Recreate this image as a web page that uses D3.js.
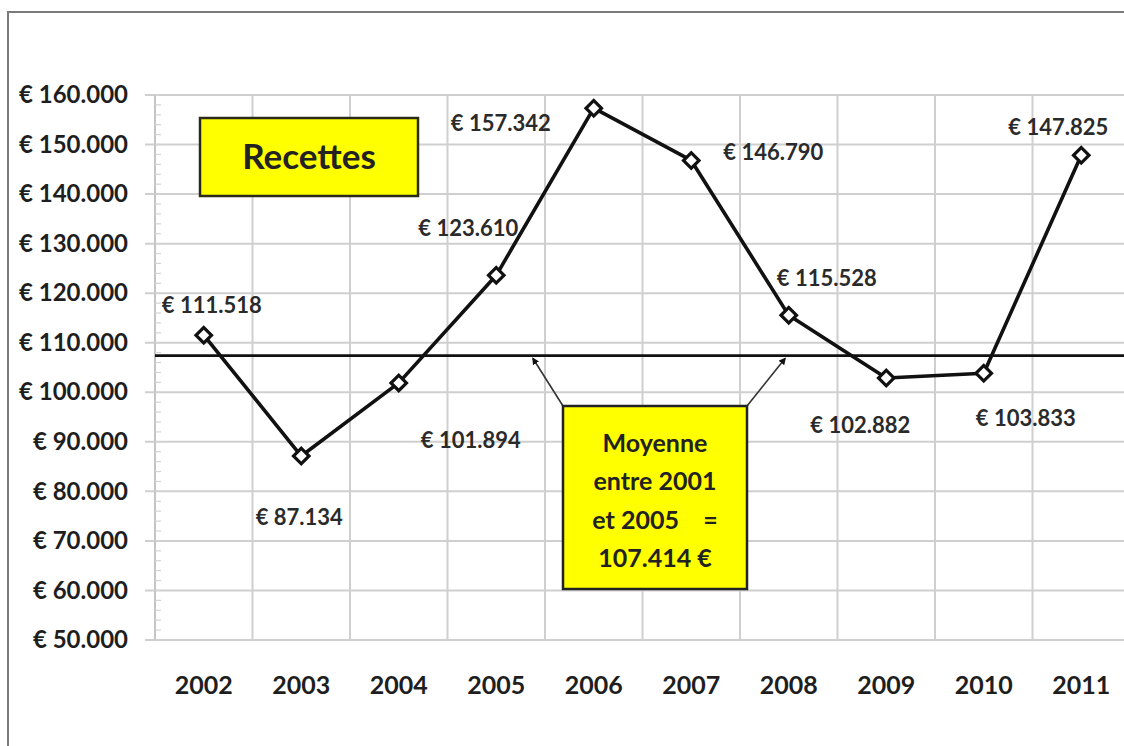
<!DOCTYPE html>
<html>
<head>
<meta charset="utf-8">
<script src="https://cdn.jsdelivr.net/npm/d3@7"></script>
<style>
	body { margin: 0; background: #fff; }
	svg { display: block; font-family: Lato, "Open Sans", sans-serif; }
</style>
</head>
<body>
<svg id="chart" width="1124" height="746"></svg>
<script>

//DATA

var years = ["2002", "2003", "2004", "2005", "2006", "2007", "2008", "2009", "2010", "2011"];
var recettes = [111518, 87134, 101894, 123610, 157342, 146790, 115528, 102882, 103833, 147825];
var moyenne = 107414;
var yTicks = [50000, 60000, 70000, 80000, 90000, 100000, 110000, 120000, 130000, 140000, 150000, 160000];
var titre = "Recettes";
var noteLines = ["Moyenne", "entre 2001", "et 2005    =", "107.414 €"];

//label placement around each point (layout only)
var labelOffsets = [[8, -30], [-2, 61], [72, 57], [-28, -47], [-93, 15], [82, -8], [38, -37], [-26, 47], [42, 45], [-23, -28]];

//LAYOUT

var margin = { top: 95, left: 155, bottom: 106 };
var svg = d3.select("#chart");
var outerWidth = +svg.attr("width");
var outerHeight = +svg.attr("height");
var plotRight = 1130;
var plotBottom = outerHeight - margin.bottom;

// euro format with dots as thousand separators
var fmt = (v) => "€ " + d3.format(",")(v).replace(/,/g, ".");

//scales
var xScale = d3.scaleBand()
	.domain(years)
	.range([margin.left, plotRight])
	.padding(0);

var yScale = d3.scaleLinear()
	.domain([50000, 160000])
	.range([plotBottom, margin.top]);

//frame around the chart
svg.append("rect")
	.attr("x", 8)
	.attr("y", 12)
	.attr("width", outerWidth + 20)
	.attr("height", outerHeight + 20)
	.attr("fill", "none")
	.attr("stroke", "#7a7a7a")
	.attr("stroke-width", 2);

//horizontal gridlines + outward ticks
svg.append("g")
	.selectAll("line")
	.data(yTicks)
	.enter()
	.append("line")
	.attr("x1", margin.left - 10)
	.attr("x2", outerWidth + 10)
	.attr("y1", d => yScale(d))
	.attr("y2", d => yScale(d))
	.attr("stroke", "#cfcfcf")
	.attr("stroke-width", 2);

//vertical gridlines at category boundaries
var bounds = years.map(d => xScale(d)).concat([plotRight]);
svg.append("g")
	.selectAll("line")
	.data(bounds)
	.enter()
	.append("line")
	.attr("x1", d => d)
	.attr("x2", d => d)
	.attr("y1", margin.top)
	.attr("y2", plotBottom)
	.attr("stroke", d => d == margin.left ? "#c4c4c4" : "#cfcfcf")
	.attr("stroke-width", 2);

//minor ticks on the value axis
var minorTicks = d3.range(50000, 160001, 2000);
svg.append("g")
	.selectAll("line")
	.data(minorTicks)
	.enter()
	.append("line")
	.attr("x1", margin.left)
	.attr("x2", margin.left + 6)
	.attr("y1", d => yScale(d))
	.attr("y2", d => yScale(d))
	.attr("stroke", "#d4d4d4")
	.attr("stroke-width", 1.2);

//y axis labels
var yAxis = d3.axisLeft(yScale)
	.tickValues(yTicks)
	.tickSize(0)
	.tickPadding(0)
	.tickFormat(fmt);

svg.append("g")
	.attr("class", "yAxis")
	.attr("transform", "translate(" + (margin.left - 27) + ",0)")
	.call(yAxis)
	.call(g => g.select(".domain").remove())
	.selectAll("text")
	.attr("font-family", "Lato, sans-serif")
	.attr("font-weight", 700)
	.attr("font-size", 24)
	.attr("fill", "#1e1e1e");

//x axis labels
var xAxis = d3.axisBottom(xScale)
	.tickSize(0)
	.tickPadding(0);

svg.append("g")
	.attr("class", "xAxis")
	.attr("transform", "translate(0," + (plotBottom + 45) + ")")
	.call(xAxis)
	.call(g => g.select(".domain").remove())
	.selectAll("text")
	.attr("dy", "0.35em")
	.attr("font-family", "Lato, sans-serif")
	.attr("font-weight", 700)
	.attr("font-size", 25)
	.attr("fill", "#1e1e1e");

//average line
svg.append("line")
	.attr("x1", margin.left)
	.attr("x2", outerWidth + 10)
	.attr("y1", yScale(moyenne))
	.attr("y2", yScale(moyenne))
	.attr("stroke", "#111")
	.attr("stroke-width", 2.8);

//the series line
var cx = (d, i) => xScale(years[i]) + xScale.bandwidth() / 2;
var line = d3.line()
	.x(cx)
	.y(d => yScale(d));

svg.append("path")
	.datum(recettes)
	.attr("d", line)
	.attr("fill", "none")
	.attr("stroke", "#111")
	.attr("stroke-width", 3.6)
	.attr("stroke-linejoin", "round");

//diamond markers
svg.append("g")
	.selectAll("path")
	.data(recettes)
	.enter()
	.append("path")
	.attr("d", d3.symbol(d3.symbolSquare, 120))
	.attr("transform", (d, i) => "translate(" + cx(d, i) + "," + yScale(d) + ") rotate(45)")
	.attr("fill", "#fff")
	.attr("stroke", "#111")
	.attr("stroke-width", 3.2);

//data labels
svg.append("g")
	.selectAll("text")
	.data(recettes)
	.enter()
	.append("text")
	.attr("x", (d, i) => cx(d, i) + labelOffsets[i][0])
	.attr("y", (d, i) => yScale(d) + labelOffsets[i][1])
	.attr("dy", "0.35em")
	.attr("text-anchor", "middle")
	.attr("font-size", 22)
	.attr("font-weight", 700)
	.attr("fill", "#2a2a2a")
	.text(d => fmt(d));

//title box
var titleBox = { x: 200, y: 118, w: 218, h: 78 };
svg.append("rect")
	.attr("x", titleBox.x)
	.attr("y", titleBox.y)
	.attr("width", titleBox.w)
	.attr("height", titleBox.h)
	.attr("fill", "#ffff00")
	.attr("stroke", "#2b2b1a")
	.attr("stroke-width", 2.5);

svg.append("text")
	.attr("x", titleBox.x + titleBox.w / 2)
	.attr("y", titleBox.y + titleBox.h / 2)
	.attr("dy", "0.35em")
	.attr("text-anchor", "middle")
	.attr("font-size", 35)
	.attr("font-weight", 700)
	.attr("fill", "#222")
	.text(titre);

//callout for the average
var note = { x: 563, y: 406, w: 184, h: 183 };

svg.append("defs")
	.append("marker")
	.attr("id", "tip")
	.attr("viewBox", "0 0 10 10")
	.attr("refX", 8)
	.attr("refY", 5)
	.attr("markerWidth", 4.5)
	.attr("markerHeight", 4.5)
	.attr("orient", "auto")
	.append("path")
	.attr("d", "M0,0L10,5L0,10z")
	.attr("fill", "#111");

var arrows = [
	[note.x, note.y, 533, yScale(moyenne) + 3],
	[note.x + note.w, note.y, 785, yScale(moyenne) + 3]
];
svg.append("g")
	.selectAll("line")
	.data(arrows)
	.enter()
	.append("line")
	.attr("x1", d => d[0])
	.attr("y1", d => d[1])
	.attr("x2", d => d[2])
	.attr("y2", d => d[3])
	.attr("stroke", "#333")
	.attr("stroke-width", 1.6)
	.attr("marker-end", "url(#tip)");

svg.append("rect")
	.attr("x", note.x)
	.attr("y", note.y)
	.attr("width", note.w)
	.attr("height", note.h)
	.attr("fill", "#ffff00")
	.attr("stroke", "#222")
	.attr("stroke-width", 2.5);

svg.append("g")
	.selectAll("text")
	.data(noteLines)
	.enter()
	.append("text")
	.attr("x", note.x + note.w / 2)
	.attr("y", (d, i) => 443 + i * 38.5)
	.attr("dy", "0.35em")
	.attr("text-anchor", "middle")
	.attr("font-size", 25)
	.attr("font-weight", 700)
	.attr("fill", "#222")
	.attr("xml:space", "preserve")
	.style("white-space", "pre")
	.text(d => d);

</script>
</body>
</html>
